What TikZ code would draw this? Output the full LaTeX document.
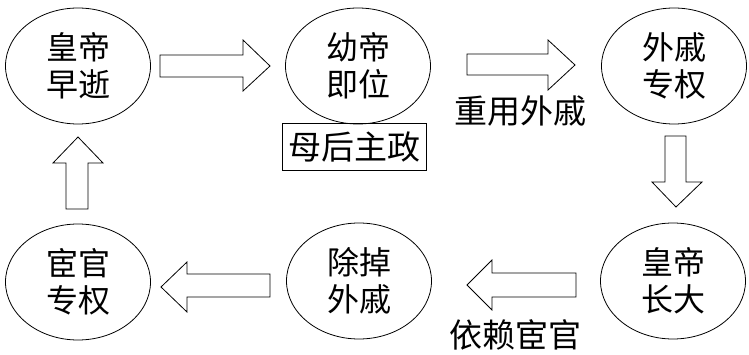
\documentclass[tikz,border=0pt]{standalone}
\usepackage{fontspec}
\newfontfamily\cjk{Noto Sans CJK SC}
\usetikzlibrary{shapes.geometric}
\begin{document}
\begin{tikzpicture}[x=1pt,y=-1pt,
  oval/.style={draw,line width=0.8pt,ellipse,minimum width=145pt,minimum height=116pt,inner sep=0pt,align=center,font=\cjk\fontsize{32}{37}\selectfont},
  lbl/.style={inner sep=0pt,font=\cjk\fontsize{33}{36}\selectfont},
  blk/.style={draw,line width=0.8pt,fill=white}]
\useasboundingbox (0,0) rectangle (749,355);
\node[oval] (a) at (78,66) {皇帝\\早逝};
\node[oval] (b) at (358,66) {幼帝\\即位};
\node[oval] (c) at (674,66) {外戚\\专权};
\node[oval] (d) at (673,281) {皇帝\\长大};
\node[oval] (e) at (359,281) {除掉\\外戚};
\node[oval] (f) at (78,282) {宦官\\专权};
\node[draw,line width=0.8pt,lbl,minimum width=144pt,minimum height=47pt] (g) at (354,147) {母后主政};
\node[lbl] (h) at (520,111) {重用外戚};
\node[lbl] (i) at (515,335) {依赖宦官};
% block arrows
\draw[blk] (160,55) -- (243,55) -- (243,40) -- (270,66) -- (243,91) -- (243,77) -- (160,77) -- cycle;
\draw[blk] (467,54) -- (548,54) -- (548,40) -- (575,65) -- (548,90) -- (548,75) -- (467,75) -- cycle;
\draw[blk] (665,136) -- (686,136) -- (686,182) -- (702,182) -- (676,207) -- (652,182) -- (665,182) -- cycle;
\draw[blk] (576,273) -- (492,273) -- (492,260) -- (467,285) -- (492,310) -- (492,297) -- (576,297) -- cycle;
\draw[blk] (270,274) -- (187,274) -- (187,262) -- (161,287) -- (187,312) -- (187,297) -- (270,297) -- cycle;
\draw[blk] (66,209) -- (66,163) -- (53,163) -- (78,137) -- (103,163) -- (88,163) -- (88,209) -- cycle;
\end{tikzpicture}
\end{document}
